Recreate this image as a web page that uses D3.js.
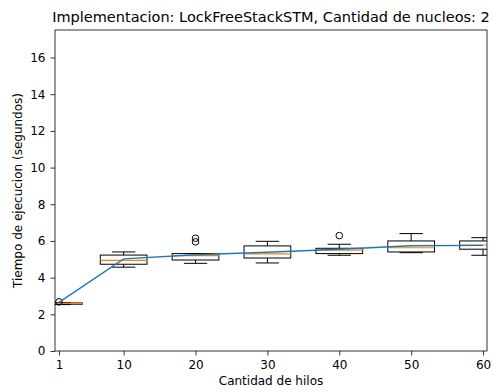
<!DOCTYPE html>
<html>
<head>
<meta charset="utf-8">
<script src="https://cdn.jsdelivr.net/npm/d3@7"></script>
<style>
  html, body { margin: 0; padding: 0; background: #fff; }
  svg { display: block; font-family: "DejaVu Sans", sans-serif; }
</style>
</head>
<body>
<svg id="chart" width="494" height="392"></svg>
<script>
// Execution times per thread count (seconds)
const hilos = [1, 10, 20, 30, 40, 50, 60];
const bigoteInf = [2.53, 4.57, 4.78, 4.80, 5.22, 5.36, 5.22];
const q1 = [2.55, 4.73, 4.96, 5.07, 5.31, 5.40, 5.55];
const mediana = [2.60, 4.94, 5.20, 5.29, 5.50, 5.63, 5.78];
const q3 = [2.62, 5.23, 5.31, 5.73, 5.60, 6.00, 6.00];
const bigoteSup = [2.63, 5.40, 5.31, 5.98, 5.82, 6.40, 6.18];
const atipicos = [[2.68], [], [6.15, 5.95], [], [6.29], [], []];
const promedio = [2.65, 5.02, 5.25, 5.38, 5.55, 5.74, 5.76];
const yTicks = [0, 2, 4, 6, 8, 10, 12, 14, 16];

const titulo = "Implementacion: LockFreeStackSTM, Cantidad de nucleos: 2";
const etiquetaX = "Cantidad de hilos";
const etiquetaY = "Tiempo de ejecucion (segundos)";

const M = { left: 55, right: 487, top: 30, bottom: 351 };
const anchoCaja = 6.5;
const fuente = 12;

const svg = d3.select("#chart");
const x = d3.scaleLinear().domain([0.45, 60.55]).range([M.left, M.right]);
const y = d3.scaleLinear().domain([0, 17.5]).range([M.bottom, M.top]);

svg.append("defs").append("clipPath").attr("id", "area")
  .append("rect").attr("x", M.left).attr("y", M.top)
  .attr("width", M.right - M.left).attr("height", M.bottom - M.top);

const plot = svg.append("g").attr("clip-path", "url(#area)");

const datos = hilos.map((h, i) => ({
  h, lo: bigoteInf[i], q1: q1[i], med: mediana[i], q3: q3[i], hi: bigoteSup[i], out: atipicos[i]
}));

const cajas = plot.selectAll("g.caja").data(datos).join("g").attr("class", "caja");
const half = d => (x(d.h + anchoCaja / 2) - x(d.h - anchoCaja / 2)) / 2;

// whiskers
cajas.append("line")
  .attr("x1", d => x(d.h)).attr("x2", d => x(d.h))
  .attr("y1", d => y(d.q1)).attr("y2", d => y(d.lo))
  .attr("stroke", "#000").attr("stroke-width", 1);
cajas.append("line")
  .attr("x1", d => x(d.h)).attr("x2", d => x(d.h))
  .attr("y1", d => y(d.q3)).attr("y2", d => y(d.hi))
  .attr("stroke", "#000").attr("stroke-width", 1);
// caps
["lo", "hi"].forEach(k => {
  cajas.append("line")
    .attr("x1", d => x(d.h) - half(d) / 2).attr("x2", d => x(d.h) + half(d) / 2)
    .attr("y1", d => y(d[k])).attr("y2", d => y(d[k]))
    .attr("stroke", "#000").attr("stroke-width", 1);
});
// boxes
cajas.append("rect")
  .attr("x", d => x(d.h - anchoCaja / 2))
  .attr("width", d => x(d.h + anchoCaja / 2) - x(d.h - anchoCaja / 2))
  .attr("y", d => y(d.q3))
  .attr("height", d => y(d.q1) - y(d.q3))
  .attr("fill", "none").attr("stroke", "#000").attr("stroke-width", 1);
// medians
cajas.append("line")
  .attr("x1", d => x(d.h - anchoCaja / 2)).attr("x2", d => x(d.h + anchoCaja / 2))
  .attr("y1", d => y(d.med)).attr("y2", d => y(d.med))
  .attr("stroke", "#ff7f0e").attr("stroke-width", 1.2);
// fliers
cajas.selectAll("circle").data(d => d.out.map(v => ({ h: d.h, v }))).join("circle")
  .attr("cx", d => x(d.h)).attr("cy", d => y(d.v)).attr("r", 3.3)
  .attr("fill", "none").attr("stroke", "#000").attr("stroke-width", 1);

// mean line
plot.append("path")
  .datum(hilos.map((h, i) => [h, promedio[i]]))
  .attr("d", d3.line().x(d => x(d[0])).y(d => y(d[1])))
  .attr("fill", "none").attr("stroke", "#1f77b4").attr("stroke-width", 1.4);

// axes
const ejeX = svg.append("g").attr("transform", `translate(0,${M.bottom})`)
  .call(d3.axisBottom(x).tickValues(hilos).tickSize(4.5).tickPadding(5).tickFormat(d3.format("d")));
const ejeY = svg.append("g").attr("transform", `translate(${M.left},0)`)
  .call(d3.axisLeft(y).tickValues(yTicks).tickSize(4.5).tickPadding(5));
[ejeX, ejeY].forEach(g => {
  g.select(".domain").remove();
  g.selectAll("text").attr("font-family", "DejaVu Sans").attr("font-size", fuente).attr("fill", "#000");
  g.selectAll("line").attr("stroke", "#000").attr("stroke-width", 0.8);
});

// frame
svg.append("rect").attr("x", M.left).attr("y", M.top)
  .attr("width", M.right - M.left).attr("height", M.bottom - M.top)
  .attr("fill", "none").attr("stroke", "#000").attr("stroke-width", 0.8);

// labels
svg.append("text").attr("x", (M.left + M.right) / 2).attr("y", 22)
  .attr("text-anchor", "middle").attr("font-size", 14.5).attr("fill", "#000").text(titulo);
svg.append("text").attr("x", (M.left + M.right) / 2).attr("y", 385)
  .attr("text-anchor", "middle").attr("font-size", fuente).attr("fill", "#000").text(etiquetaX);
svg.append("text").attr("transform", `translate(22,${(M.top + M.bottom) / 2}) rotate(-90)`)
  .attr("text-anchor", "middle").attr("font-size", fuente).attr("fill", "#000").text(etiquetaY);
</script>
</body>
</html>
